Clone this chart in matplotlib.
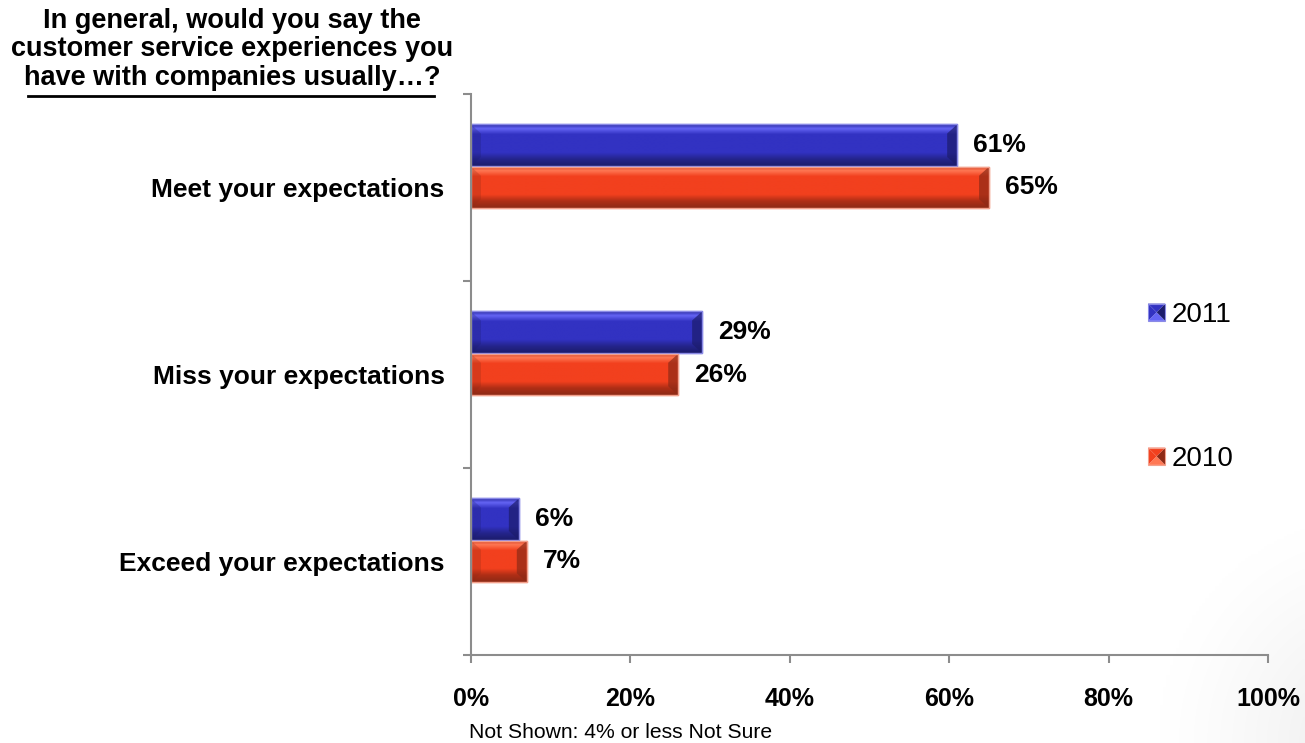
import numpy as np
import matplotlib
matplotlib.use("Agg")
import matplotlib.pyplot as plt
from matplotlib.patches import Polygon, Rectangle
from matplotlib.legend_handler import HandlerBase
from matplotlib.colors import to_rgb

plt.rcParams['font.family'] = ['Liberation Sans', 'DejaVu Sans']

# ---- data -------------------------------------------------------------
categories = ["Exceed your expectations", "Miss your expectations", "Meet your expectations"]
values_2011 = [6, 29, 61]
values_2010 = [7, 26, 65]
series_names = ["2011", "2010"]
x_ticks = [0, 20, 40, 60, 80, 100]
x_tick_labels = ["0%", "20%", "40%", "60%", "80%", "100%"]
title_lines = ["In general, would you say the",
               "customer service experiences you",
               "have with companies usually\u2026?"]
footnote = "Not Shown: 4% or less Not Sure"

# ---- styling ----------------------------------------------------------
BLUE = dict(base="#3232c2", light="#6464f4", dark="#1c1c6c", edge="#8a8ae6")
RED = dict(base="#f2401e", light="#ff7854", dark="#8e2a16", edge="#f3a08c")
AXIS_GREY = "#8c8c8c"

fig = plt.figure(figsize=(13.05, 7.43), dpi=100)
fig.patch.set_facecolor("white")

# faint grey sheen in the lower right corner of the page
bg = fig.add_axes([0, 0, 1, 1], zorder=-10)
bg.set_axis_off()
gx, gy = np.meshgrid(np.linspace(0, 1, 400), np.linspace(0, 1, 300))
d = np.sqrt(((gx - 1.05) / 0.16) ** 2 + ((gy - 0.0) / 0.30) ** 2)
shade = 1 - 0.07 * np.clip(1 - d, 0, 1) ** 1.2
bg.imshow(np.dstack([shade, shade, shade]), extent=[0, 1, 0, 1],
          origin="lower", aspect="auto", interpolation="bilinear")
bg.set_xlim(0, 1)
bg.set_ylim(0, 1)

ax = fig.add_axes([471 / 1305, 1 - 655 / 743, 797 / 1305, 561 / 743])
ax.set_facecolor("none")

y = np.arange(len(categories))
h = 0.222
off_2011 = 0.226

bars_2011 = ax.barh(y + off_2011, values_2011, height=h, color=BLUE["base"],
                    edgecolor=BLUE["edge"], linewidth=1.0, zorder=2)
bars_2010 = ax.barh(y, values_2010, height=h, color=RED["base"],
                    edgecolor=RED["edge"], linewidth=1.0, zorder=2)

ax.set_xlim(0, 100)
ax.set_ylim(-0.5, 2.5)


def gradient_colors(c):
    base, light, dark = map(np.array, (to_rgb(c["base"]), to_rgb(c["light"]), to_rgb(c["dark"])))
    stops = [(0.0, base * 0.85), (0.10, light), (0.24, base), (0.68, base),
             (0.84, base * 0.72), (1.0, dark)]
    t = np.linspace(0, 1, 60)
    out = np.zeros((60, 1, 3))
    for k in range(3):
        out[:, 0, k] = np.interp(t, [s[0] for s in stops], [s[1][k] for s in stops])
    return out


def bevel(bars, c):
    img = gradient_colors(c)
    px_x = 797 / 100.0
    px_y = 561 / 3.0
    for p in bars:
        x0, y0 = p.get_x(), p.get_y()
        w, hh = p.get_width(), p.get_height()
        x1, y1 = x0 + w, y0 + hh
        im = ax.imshow(img, extent=[x0, x1, y0, y1], aspect="auto",
                       interpolation="bilinear", zorder=2.1, origin="upper")
        im.set_clip_path(p)
        bx = min(10 / px_x, w / 3.0)
        by = 9 / px_y
        # left end facet
        ax.add_patch(Polygon([(x0, y0), (x0 + bx, y0 + by), (x0 + bx, y1 - by), (x0, y1)],
                             closed=True, facecolor=c["dark"], alpha=0.25,
                             edgecolor="none", zorder=2.2))
        # right end facet
        ax.add_patch(Polygon([(x1, y0), (x1 - bx, y0 + by), (x1 - bx, y1 - by), (x1, y1)],
                             closed=True, facecolor=c["dark"], alpha=0.7,
                             edgecolor="none", zorder=2.2))
        ax.add_patch(Rectangle((x0, y0), w, hh, facecolor="none",
                               edgecolor=c["edge"], linewidth=1.0, zorder=2.3))


bevel(bars_2011, BLUE)
bevel(bars_2010, RED)

# value labels
for bars, vals in ((bars_2011, values_2011), (bars_2010, values_2010)):
    for p, v in zip(bars, vals):
        ax.annotate(f"{v}%", xy=(v, p.get_y() + p.get_height() / 2),
                    xytext=(11.5, 0), textcoords="offset points",
                    ha="left", va="center", fontsize=19, fontweight="bold",
                    color="black", zorder=3)

# axes styling
for side in ("top", "right"):
    ax.spines[side].set_visible(False)
for side in ("left", "bottom"):
    ax.spines[side].set_color(AXIS_GREY)
    ax.spines[side].set_linewidth(1.5)

ax.set_xticks(x_ticks)
ax.set_xticklabels(x_tick_labels, fontsize=18, fontweight="bold")
ax.tick_params(axis="x", direction="out", length=6, width=1.5, color=AXIS_GREY, pad=17)

ax.set_yticks(y)
ax.set_yticklabels(categories, fontsize=19, fontweight="bold")
ax.tick_params(axis="y", which="major", length=0, pad=19)
ax.set_yticks([-0.5, 0.5, 1.5, 2.5], minor=True)
ax.tick_params(axis="y", which="minor", direction="out", length=6, width=1.5, color=AXIS_GREY)


# legend with pyramid-style swatches
class PyramidHandler(HandlerBase):
    def create_artists(self, legend, orig_handle, xdescent, ydescent, width, height,
                       fontsize, trans):
        fc = orig_handle.get_facecolor()
        c = BLUE if np.allclose(fc[:3], to_rgb(BLUE["base"])) else RED
        s = min(width, height)
        x0, y0 = -xdescent, -ydescent + (height - s) / 2
        cx, cy = x0 + s / 2, y0 + s / 2
        corners = [(x0, y0), (x0 + s, y0), (x0 + s, y0 + s), (x0, y0 + s)]
        shades = [c["light"], c["dark"], c["base"], c["base"]]
        arts = []
        for i in range(4):
            a, b = corners[i], corners[(i + 1) % 4]
            arts.append(Polygon([a, b, (cx, cy)], closed=True, facecolor=shades[i],
                                edgecolor="none", transform=trans))
        arts.append(Rectangle((x0, y0), s, s, facecolor="none",
                              edgecolor=c["edge"], linewidth=0.8, transform=trans))
        return arts


handles = [Rectangle((0, 0), 1, 1, facecolor=BLUE["base"]),
           Rectangle((0, 0), 1, 1, facecolor=RED["base"])]
fig.legend(handles, series_names, loc="upper left",
           bbox_to_anchor=(1148 / 1305, 1 - 302 / 743), frameon=False,
           fontsize=20, handlelength=0.62, handleheight=0.62, handletextpad=0.22,
           labelspacing=4.25, borderpad=0, borderaxespad=0,
           handler_map={Rectangle: PyramidHandler()})

# question text in the upper left, last line underlined
line_y = [21, 49, 78]
texts = []
for ln, yy in zip(title_lines, line_y):
    texts.append(fig.text(232 / 1305, 1 - yy / 743, ln, ha="center", va="center",
                          fontsize=19.5, fontweight="bold"))

fig.text(469 / 1305, 1 - 733 / 743, footnote, ha="left", va="center", fontsize=15.2)

fig.canvas.draw()
bb = texts[-1].get_window_extent().transformed(fig.transFigure.inverted())
uy = bb.y0 - 5 / 743
fig.add_artist(plt.Line2D([bb.x0 + 4 / 1305, bb.x1 - 6 / 1305], [uy, uy],
                          color="black", linewidth=2.0, transform=fig.transFigure))

fig.savefig("out.png", dpi=100, facecolor="white")
